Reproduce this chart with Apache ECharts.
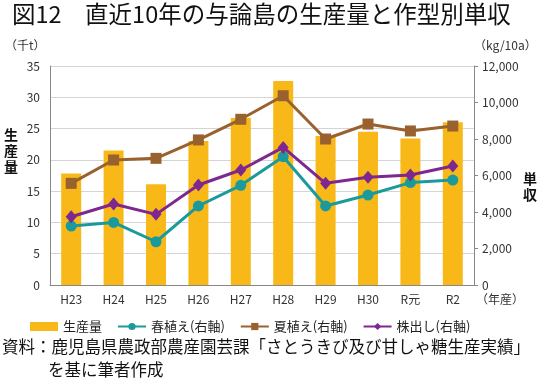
<!DOCTYPE html>
<html><head><meta charset="utf-8">
<script src="https://cdn.jsdelivr.net/npm/echarts@6/dist/echarts.min.js"></script>
<style>html,body{margin:0;padding:0;background:#fff}#c{width:545px;height:386px}</style>
</head><body><div id="c"></div>
<script>
const categories = ['H23','H24','H25','H26','H27','H28','H29','H30','R元','R2'];
const production = [17.8, 21.5, 16.1, 23.0, 26.7, 32.6, 23.8, 24.5, 23.4, 26.0];
const spring = [3230, 3430, 2370, 4330, 5460, 7030, 4330, 4930, 5610, 5750];
const summer = [5570, 6850, 6940, 7950, 9080, 10370, 8000, 8820, 8440, 8710];
const ratoon = [3740, 4440, 3870, 5480, 6300, 7540, 5570, 5900, 6030, 6520];
const leftTicks = [0,5,10,15,20,25,30,35];
const rightTicks = [0,2000,4000,6000,8000,10000,12000];

const F = '"Noto Sans CJK JP", sans-serif';
const chart = echarts.init(document.getElementById('c'));
chart.setOption({
  animation:false,
  textStyle:{fontFamily:F},
  grid:{left:50,right:71,top:66,bottom:101},
  legend:{
    left:25, top:315, itemGap:15, itemWidth:28, itemHeight:9,
    textStyle:{fontFamily:F,fontSize:13,color:'#222'},
    data:[
      {name:'生産量',icon:'rect'},
      {name:'春植え(右軸)'},{name:'夏植え(右軸)'},{name:'株出し(右軸)'}
    ]
  },
  xAxis:{
    type:'category', data:categories,
    axisLine:{lineStyle:{color:'#888'}},
    axisTick:{show:false},
    axisLabel:{fontFamily:F,fontSize:12,color:'#333',margin:8}
  },
  yAxis:[
    {type:'value',min:0,max:35,interval:5,
     axisLine:{show:true,lineStyle:{color:'#888'}},axisTick:{show:false},
     splitLine:{lineStyle:{color:'#d4d4d4'}},
     axisLabel:{fontFamily:F,fontSize:12,color:'#333',margin:10}},
    {type:'value',min:0,max:12000,interval:2000,
     axisLine:{show:true,lineStyle:{color:'#888'}},
     axisTick:{show:true,length:4,lineStyle:{color:'#888'}},
     splitLine:{show:false},
     axisLabel:{fontFamily:F,fontSize:12,color:'#333',margin:8,
       formatter:v=>v.toLocaleString('en-US')}}
  ],
  series:[
    {name:'生産量',type:'bar',data:production,barWidth:20,itemStyle:{color:'#F8B918'}},
    {name:'春植え(右軸)',type:'line',yAxisIndex:1,data:spring,symbol:'circle',symbolSize:11,
     lineStyle:{width:3,color:'#1B9A9B'},itemStyle:{color:'#1B9A9B'}},
    {name:'夏植え(右軸)',type:'line',yAxisIndex:1,data:summer,symbol:'rect',symbolSize:11,
     lineStyle:{width:3,color:'#98612E'},itemStyle:{color:'#98612E'}},
    {name:'株出し(右軸)',type:'line',yAxisIndex:1,data:ratoon,symbol:'diamond',symbolSize:[11,13],
     lineStyle:{width:3,color:'#7E278F'},itemStyle:{color:'#7E278F'}}
  ],
  graphic:[
    {type:'text',left:12,top:2,style:{text:'図12　直近10年の与論島の生産量と作型別単収',font:'23.5px '+F,fill:'#111'}},
    {type:'text',left:5,top:39,style:{text:'（千t）',font:'12px '+F,fill:'#333'}},
    {type:'text',left:474,top:39,style:{text:'（kg/10a）',font:'12px '+F,fill:'#333'}},
    {type:'text',left:4,top:127,style:{text:'生\n産\n量',font:'bold 14px '+F,fill:'#111',lineHeight:16}},
    {type:'text',left:523,top:171,style:{text:'単\n収',font:'bold 14px '+F,fill:'#111',lineHeight:16}},
    {type:'text',left:476,top:293,style:{text:'（年産）',font:'12px '+F,fill:'#333'}},
    {type:'text',left:2,top:338,style:{text:'資料：鹿児島県農政部農産園芸課「さとうきび及び甘しゃ糖生産実績」',font:'16.5px '+F,fill:'#111'}},
    {type:'text',left:48,top:361,style:{text:'を基に筆者作成',font:'16.5px '+F,fill:'#111'}}
  ]
});
</script></body></html>
